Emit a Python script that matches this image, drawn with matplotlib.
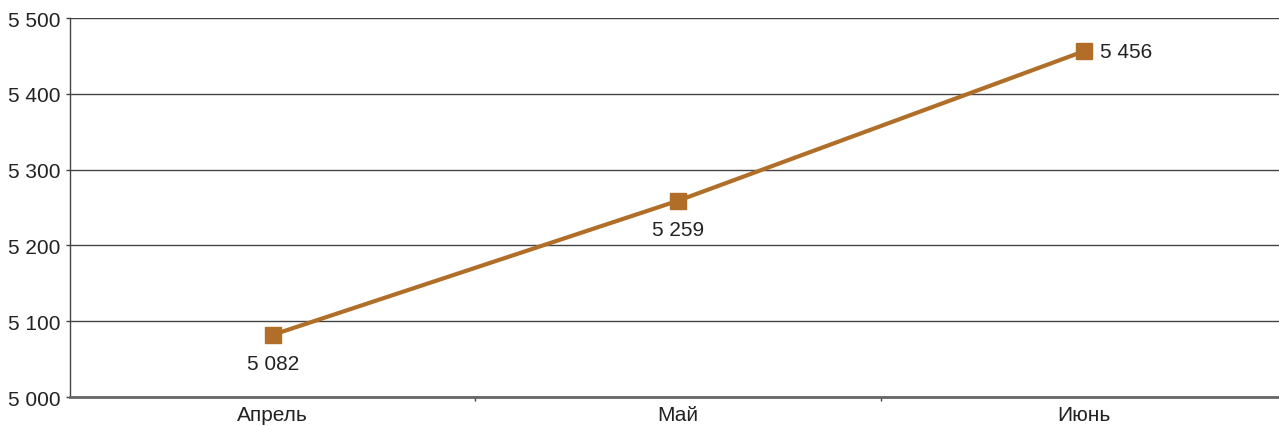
import matplotlib.pyplot as plt
import matplotlib.ticker as mticker

plt.rcParams['font.family'] = ['Liberation Sans', 'DejaVu Sans']

months = ['Апрель', 'Май', 'Июнь']
values = [5082, 5259, 5456]
label_pos = ['below', 'below', 'right']

line_color = '#B06E28'
text_color = '#222222'

fig = plt.figure(figsize=(12.79, 4.27), dpi=100)
ax = fig.add_axes([0.0547, 0.0679, 0.951, 0.8876])

x = list(range(len(months)))
ax.plot(x, values, color=line_color, linewidth=3, marker='s', markersize=11,
        markerfacecolor=line_color, markeredgecolor=line_color, zorder=3)

for xi, v, pos in zip(x, values, label_pos):
    txt = f'{v:,}'.replace(',', ' ')
    if pos == 'below':
        ax.annotate(txt, (xi, v), xytext=(0, -14), textcoords='offset points',
                    ha='center', va='top', fontsize=15, color=text_color)
    else:
        ax.annotate(txt, (xi, v), xytext=(12, 0), textcoords='offset points',
                    ha='left', va='center', fontsize=15, color=text_color)

ax.set_xlim(-0.5, 2.5)
ax.set_ylim(5000, 5500)
ax.set_yticks(range(5000, 5501, 100))
ax.yaxis.set_major_formatter(mticker.FuncFormatter(lambda v, p: f'{int(v):,}'.replace(',', ' ')))
ax.set_xticks(x)
ax.set_xticklabels(months)
ax.set_xticks([0.5, 1.5], minor=True)

ax.grid(axis='y', color='#444444', linewidth=1)
ax.set_axisbelow(True)
for side in ['top', 'right']:
    ax.spines[side].set_visible(False)
ax.spines['left'].set_color('#444444')
ax.spines['left'].set_linewidth(1)
ax.spines['bottom'].set_color('#666666')
ax.spines['bottom'].set_linewidth(2)

ax.tick_params(axis='y', length=3, width=1, color='#444444', labelsize=15,
               labelcolor=text_color, pad=4)
ax.tick_params(axis='x', which='major', length=0, labelsize=15,
               labelcolor=text_color, pad=6)
ax.tick_params(axis='x', which='minor', length=3, width=1, color='#444444')

fig.savefig('out.png', dpi=100)
